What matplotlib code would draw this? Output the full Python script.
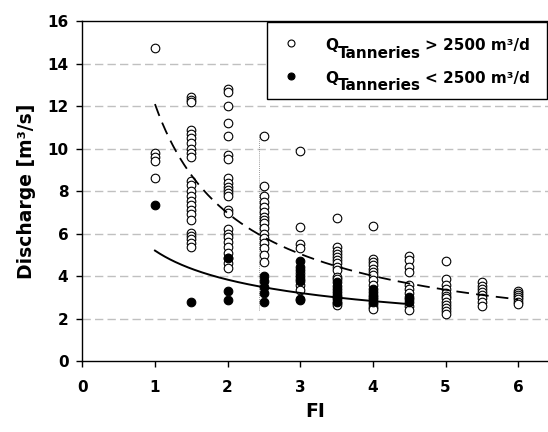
import matplotlib
matplotlib.use('Agg')
import matplotlib.pyplot as plt
import numpy as np

plt.rcParams['font.family'] = ['DejaVu Sans']
plt.rcParams['font.weight'] = 'bold'

# --- data ------------------------------------------------------------------
fi_levels = [1, 1.5, 2, 2.5, 3, 3.5, 4, 4.5, 5, 5.5, 6]

# discharge for Q_Tanneries > 2500 m3/d (open circles), one list per FI level
q_high = [
    [14.75, 9.8, 9.6, 9.4, 8.6],
    [12.45, 12.3, 12.2, 10.9, 10.7, 10.5, 10.25, 10.0, 9.8, 9.6, 8.5, 8.3,
     8.0, 7.75, 7.55, 7.35, 7.1, 6.9, 6.65, 6.05, 5.9, 5.75, 5.55, 5.35],
    [12.8, 12.65, 12.0, 11.2, 10.6, 9.7, 9.5, 8.6, 8.4, 8.2, 8.05, 7.9, 7.75,
     7.1, 6.95, 6.2, 6.0, 5.85, 5.6, 5.35, 5.1, 4.85, 4.6, 4.4],
    [10.6, 8.25, 7.75, 7.5, 7.25, 7.0, 6.8, 6.65, 6.5, 6.25, 6.0, 5.8, 5.55,
     5.3, 5.0, 4.65],
    [9.9, 6.3, 5.5, 5.3, 4.15, 3.85, 3.6, 3.35],
    [6.75, 5.35, 5.2, 5.05, 4.9, 4.75, 4.6, 4.45, 4.3, 3.95, 3.85, 2.75, 2.65],
    [6.35, 4.8, 4.65, 4.5, 4.35, 4.2, 4.05, 3.8, 3.6, 2.7, 2.55, 2.45],
    [4.95, 4.75, 4.45, 4.2, 3.6, 3.4, 3.2, 2.6, 2.4],
    [4.7, 3.85, 3.6, 3.4, 3.2, 3.05, 2.95, 2.8, 2.65, 2.5, 2.35, 2.2],
    [3.7, 3.55, 3.4, 3.25, 3.1, 2.95, 2.8, 2.6],
    [3.3, 3.2, 3.1, 3.0, 2.9, 2.8, 2.7],
]

# discharge for Q_Tanneries < 2500 m3/d (filled circles)
q_low = [
    [7.35],
    [2.8],
    [4.85, 3.3, 2.85],
    [4.0, 3.75, 3.5, 3.2, 2.8],
    [4.7, 4.45, 4.3, 4.0, 3.75, 2.9, 2.85],
    [3.7, 3.55, 3.4, 3.25, 3.1, 3.0, 2.9, 2.8],
    [3.4, 3.25, 3.1, 3.0, 2.9, 2.8],
    [3.0, 2.9, 2.8],
    [], [], [],
]

# power trendlines y = a * x^b
trend_high = (12.1, -0.797)
trend_high_range = (1.0, 6.0)
trend_low = (5.2, -0.441)
trend_low_range = (1.0, 4.5)

x_ticks = [0, 1, 2, 3, 4, 5, 6]
y_ticks = [0, 2, 4, 6, 8, 10, 12, 14, 16]

# --- figure ----------------------------------------------------------------
fig = plt.figure(figsize=(5.48, 4.32), dpi=100)
ax = fig.add_axes([0.1502, 0.1644, 0.8498, 0.7863])

ax.set_xlim(0, 6.41)
ax.set_ylim(0, 16)
ax.set_xticks(x_ticks)
ax.set_yticks(y_ticks)
ax.tick_params(labelsize=11, length=4, width=1, direction='out')
ax.tick_params(axis='x', pad=10)
ax.tick_params(axis='y', pad=6)
ax.spines['right'].set_visible(False)
for s in ('left', 'bottom', 'top'):
    ax.spines[s].set_linewidth(1.0)

# dashed grey grid at the y ticks (not on the top frame)
for yv in y_ticks[1:-1]:
    ax.axhline(yv, color='#c0c0c0', lw=1.0, dashes=(6, 3), zorder=0)

xh = [x for x, vals in zip(fi_levels, q_high) for _ in vals]
yh = [v for vals in q_high for v in vals]
xl = [x for x, vals in zip(fi_levels, q_low) for _ in vals]
yl = [v for vals in q_low for v in vals]

ax.plot(xh, yh, 'o', ms=6.2, mfc='white', mec='black', mew=0.8, ls='none', zorder=3)
ax.plot(xl, yl, 'o', ms=6.2, mfc='black', mec='black', mew=0.8, ls='none', zorder=4)

# trendlines
xs = np.linspace(*trend_high_range, 200)
ax.plot(xs, trend_high[0] * xs ** trend_high[1], color='black', lw=1.3,
        dashes=(7, 4), zorder=5)
xs = np.linspace(*trend_low_range, 200)
ax.plot(xs, trend_low[0] * xs ** trend_low[1], color='black', lw=1.4, zorder=5)

# faint dotted vertical artefact seen in the source image
ax.plot([2.43, 2.43], [2.4, 10.75], color='#777777', lw=0.6,
        dashes=(1, 1.5), zorder=2)

ax.set_xlabel('FI', fontsize=13.5, fontweight='bold')
ax.set_ylabel('Discharge [m³/s]', fontsize=13.5, fontweight='bold')
ax.yaxis.set_label_coords(-0.1, 0.5)
ax.xaxis.set_label_coords(0.5, -0.12)

# --- legend drawn by hand (subscript kept at full size) ----------------------
box = plt.Rectangle((0.397, 0.771), 0.60, 0.227, transform=ax.transAxes,
                    facecolor='white', edgecolor='black', lw=1.0, zorder=6)
ax.add_patch(box)

rows = [('>', 'white', 0.935), ('<', 'black', 0.838)]
for sign, face, ya in rows:
    ax.plot([0.449], [ya], 'o', ms=5, mfc=face, mec='black', mew=0.8,
            transform=ax.transAxes, zorder=7, clip_on=False)
    t1 = ax.text(0.521, ya - 0.028, 'Q', transform=ax.transAxes, fontsize=11,
                 fontweight='bold', va='bottom', ha='left', zorder=7)
    t2 = ax.annotate('Tanneries', xy=(1, 0), xycoords=t1, xytext=(0, -5.5),
                     textcoords='offset points', fontsize=11, fontweight='bold',
                     va='bottom', ha='left', zorder=7)
    ax.annotate(f'{sign} 2500 m³/d', xy=(1, 0), xycoords=t2, xytext=(3, 5.5),
                textcoords='offset points', fontsize=11, fontweight='bold',
                va='bottom', ha='left', zorder=7)

fig.savefig('out.png', dpi=100, facecolor='white')
